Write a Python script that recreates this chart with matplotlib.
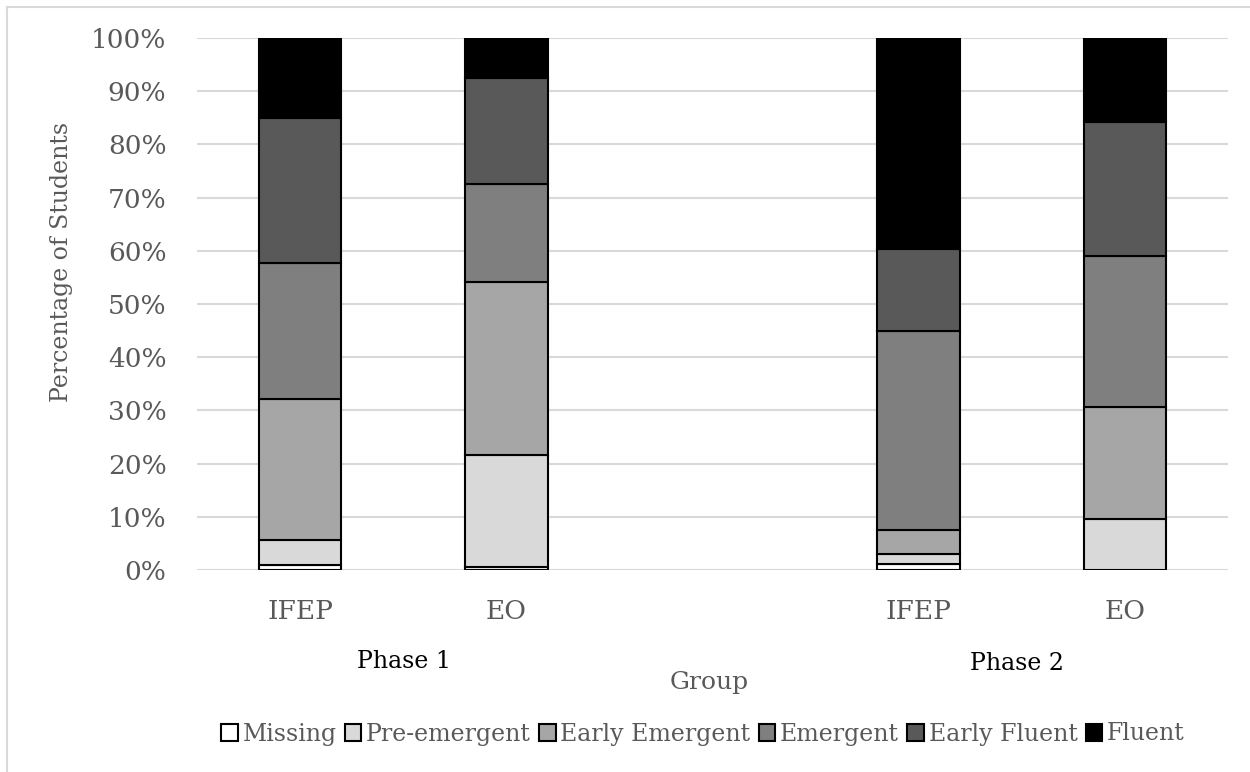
import matplotlib
matplotlib.use("Agg")
import matplotlib.pyplot as plt
from matplotlib.patches import Rectangle
import numpy as np

# ---- data (percent of students) ----
groups = ["IFEP", "EO", "IFEP", "EO"]
phases = ["Phase 1", "Phase 2"]
levels = ["Missing", "Pre-emergent", "Early Emergent", "Emergent", "Early Fluent", "Fluent"]
missing = [0.9, 0.5, 1.1, 0.0]
pre_emergent = [4.7, 21.2, 1.9, 9.6]
early_emergent = [26.5, 32.5, 4.5, 21.1]
emergent = [25.7, 18.4, 37.4, 28.4]
early_fluent = [27.2, 19.9, 15.4, 25.1]
fluent = [15.0, 7.5, 39.7, 15.8]
yticks = [0, 10, 20, 30, 40, 50, 60, 70, 80, 90, 100]

colors = ["#FFFFFF", "#D9D9D9", "#A6A6A6", "#7F7F7F", "#595959", "#000000"]
series = [missing, pre_emergent, early_emergent, emergent, early_fluent, fluent]

W, H = 1250, 772
fig = plt.figure(figsize=(W / 100, H / 100), dpi=100)
ax = fig.add_axes([197 / W, 1 - 570 / H, (1228 - 197) / W, (570 - 38) / H])

serif = ["DejaVu Serif"]
txt_color = "#595959"

# positions: two groups per phase, with an empty slot between phases
x = np.array([0, 1, 3, 4], dtype=float)
bottom = np.zeros(len(groups))
for name, vals, c in zip(levels, series, colors):
    v = np.array(vals) / 100.0
    ax.bar(x, v, width=0.4, bottom=bottom, color=c, edgecolor="black",
           linewidth=1.5, label=name, zorder=3)
    bottom += v

ax.set_xlim(-0.5, 4.5)
ax.set_ylim(0, 1)
ax.set_yticks([t / 100 for t in yticks])
ax.set_yticklabels([f"{t}%" for t in yticks], fontfamily=serif, fontsize=19, color=txt_color)
ax.set_xticks(x)
ax.set_xticklabels(groups, fontfamily=serif, fontsize=19, color=txt_color)
ax.tick_params(axis="both", length=0)
ax.tick_params(axis="x", pad=21)
ax.tick_params(axis="y", pad=22)
ax.grid(axis="y", color="#D9D9D9", linewidth=1.5, zorder=0)
ax.set_axisbelow(True)
for s in ax.spines.values():
    s.set_visible(False)

fig.text(62 / W, 1 - 262 / H, "Percentage of Students", ha="center", va="center",
         rotation=90, fontfamily=serif, fontsize=17, color=txt_color)
fig.text(709 / W, 1 - 683 / H, "Group", ha="center", va="center",
         fontfamily=serif, fontsize=18, color=txt_color)

# phase labels
fig.text(404 / W, 1 - 662 / H, phases[0], ha="center", va="center",
         fontfamily=serif, fontsize=17, color="black")
fig.text(1017 / W, 1 - 664 / H, phases[1], ha="center", va="center",
         fontfamily=serif, fontsize=17, color="black")

# legend
handles = [Rectangle((0, 0), 1, 1, facecolor=c, edgecolor="black", linewidth=1.5) for c in colors]
leg = fig.legend(handles, levels, loc="center", bbox_to_anchor=(703 / W, 1 - 734 / H),
                 ncol=6, frameon=False, prop={"family": serif, "size": 17},
                 handlelength=0.7, handleheight=0.7, handletextpad=0.2, columnspacing=0.35)
for t in leg.get_texts():
    t.set_color(txt_color)

# light gray frame lines (left and top)
fig.add_artist(plt.Line2D([7 / W, 7 / W], [0, 1 - 7 / H], color="#D9D9D9", linewidth=1.5))
fig.add_artist(plt.Line2D([7 / W, 1], [1 - 7 / H, 1 - 7 / H], color="#D9D9D9", linewidth=1.5))

fig.savefig("out.png", dpi=100)
